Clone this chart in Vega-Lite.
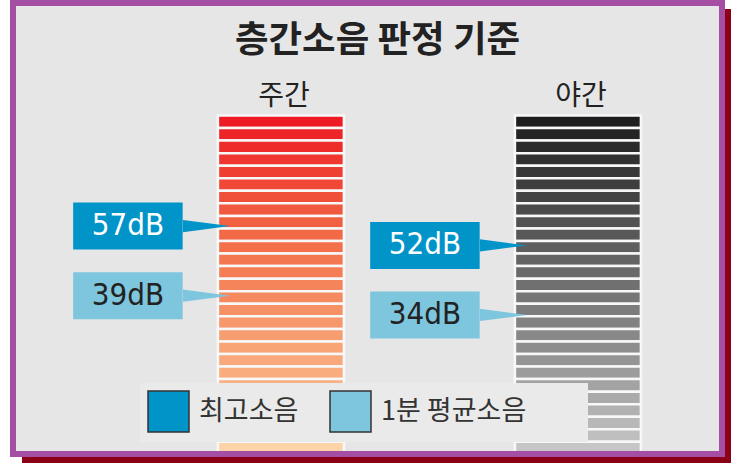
{
  "$schema": "https://vega.github.io/schema/vega-lite/v6.json",
  "width": 743,
  "height": 463,
  "autosize": {"type": "fit", "contains": "padding"},
  "padding": 0,
  "background": "white",
  "config": {"view": {"stroke": null}, "font": "Noto Sans CJK KR"},
  "title": {"text": "층간소음 판정 기준", "font": "Noto Sans CJK KR", "fontSize": 36.5, "fontWeight": "bold", "color": "#222222", "anchor": "middle", "frame": "group", "offset": -59, "dx": 6},
  "datasets": {
    "frame": [{"name": "frame"}],
    "levels": [
      {"period": "주간", "type": "최고소음", "dB": 57, "label": "57dB"},
      {"period": "주간", "type": "1분 평균소음", "dB": 39, "label": "39dB"},
      {"period": "야간", "type": "최고소음", "dB": 52, "label": "52dB"},
      {"period": "야간", "type": "1분 평균소음", "dB": 34, "label": "34dB"}
    ],
    "stripes": [
      {"period": "주간", "level": 0}, {"period": "주간", "level": 1}, {"period": "주간", "level": 2}, {"period": "주간", "level": 3}, {"period": "주간", "level": 4}, {"period": "주간", "level": 5}, {"period": "주간", "level": 6}, {"period": "주간", "level": 7}, {"period": "주간", "level": 8}, {"period": "주간", "level": 9}, {"period": "주간", "level": 10}, {"period": "주간", "level": 11}, {"period": "주간", "level": 12}, {"period": "주간", "level": 13}, {"period": "주간", "level": 14}, {"period": "주간", "level": 15}, {"period": "주간", "level": 16}, {"period": "주간", "level": 17}, {"period": "주간", "level": 18}, {"period": "주간", "level": 19}, {"period": "주간", "level": 20}, {"period": "주간", "level": 21}, {"period": "주간", "level": 22}, {"period": "주간", "level": 23}, {"period": "주간", "level": 24}, {"period": "주간", "level": 25}, {"period": "주간", "level": 26},
      {"period": "야간", "level": 0}, {"period": "야간", "level": 1}, {"period": "야간", "level": 2}, {"period": "야간", "level": 3}, {"period": "야간", "level": 4}, {"period": "야간", "level": 5}, {"period": "야간", "level": 6}, {"period": "야간", "level": 7}, {"period": "야간", "level": 8}, {"period": "야간", "level": 9}, {"period": "야간", "level": 10}, {"period": "야간", "level": 11}, {"period": "야간", "level": 12}, {"period": "야간", "level": 13}, {"period": "야간", "level": 14}, {"period": "야간", "level": 15}, {"period": "야간", "level": 16}, {"period": "야간", "level": 17}, {"period": "야간", "level": 18}, {"period": "야간", "level": 19}, {"period": "야간", "level": 20}, {"period": "야간", "level": 21}, {"period": "야간", "level": 22}, {"period": "야간", "level": 23}, {"period": "야간", "level": 24}, {"period": "야간", "level": 25}, {"period": "야간", "level": 26}
    ]
  },
  "layer": [
    {
      "data": {"name": "frame"},
      "mark": {"type": "rect", "fill": "#8b0016", "xOffset": 22, "x2Offset": -12, "yOffset": 9, "y2Offset": 0},
      "encoding": {"x": {"value": 0}, "x2": {"value": "width"}, "y": {"value": 0}, "y2": {"value": "height"}}
    },
    {
      "data": {"name": "frame"},
      "mark": {"type": "rect", "fill": "#e6e6e6", "xOffset": 13, "x2Offset": -21, "yOffset": 3, "y2Offset": -9},
      "encoding": {"x": {"value": 0}, "x2": {"value": "width"}, "y": {"value": 0}, "y2": {"value": "height"}}
    },
    {
      "data": {"name": "stripes"},
      "transform": [{"filter": "datum.period == '주간'"}],
      "mark": {"type": "rect", "stroke": "#f8f8f8", "strokeWidth": 2.5},
      "encoding": {
        "x": {"field": "period", "type": "nominal", "scale": {"type": "band", "domain": ["주간", "야간"], "paddingInner": 0.5758, "paddingOuter": 0.5387, "align": 0.681, "round": false}, "axis": {"orient": "top", "title": null, "ticks": false, "domain": false, "grid": false, "labelFont": "Noto Sans CJK KR", "labelFontSize": 28, "labelColor": "#222222", "labelPadding": 0, "offset": -110, "labelOffset": 3, "labelAngle": 0}},
        "y": {"field": "level", "type": "ordinal", "scale": {"type": "band", "paddingInner": 0, "paddingOuter": 0, "range": [115.5, 454.4], "round": false}, "axis": null},
        "color": {"field": "level", "type": "quantitative", "scale": {"domain": [0, 9, 18, 21, 26], "range": ["#ed1c24", "#f26a45", "#f8a477", "#fab183", "#fdd3a8"], "interpolate": "rgb"}, "legend": null}
      }
    },
    {
      "data": {"name": "stripes"},
      "transform": [{"filter": "datum.period == '야간'"}],
      "mark": {"type": "rect", "stroke": "#f8f8f8", "strokeWidth": 2.5},
      "encoding": {
        "x": {"field": "period", "type": "nominal", "scale": {"type": "band", "domain": ["주간", "야간"], "paddingInner": 0.5758, "paddingOuter": 0.5387, "align": 0.681, "round": false}, "axis": {"orient": "top", "title": null, "ticks": false, "domain": false, "grid": false, "labelFont": "Noto Sans CJK KR", "labelFontSize": 28, "labelColor": "#222222", "labelPadding": 0, "offset": -110, "labelOffset": 3, "labelAngle": 0}},
        "y": {"field": "level", "type": "ordinal", "scale": {"type": "band", "paddingInner": 0, "paddingOuter": 0, "range": [115.5, 454.4], "round": false}, "axis": null},
        "color": {"field": "level", "type": "quantitative", "scale": {"domain": [0, 9, 18, 26], "range": ["#1e1e1e", "#585858", "#8e8e8e", "#c6c6c6"], "interpolate": "rgb"}, "legend": null}
      }
    },
    {
      "data": {"name": "levels"},
      "mark": {"type": "point", "shape": "M -1 -0.26 L 1 0 L -1 0.26 Z", "size": 2209, "filled": true, "opacity": 1, "strokeWidth": 0, "xOffset": -74.5},
      "encoding": {
        "x": {"field": "period", "type": "nominal", "scale": {"type": "band", "domain": ["주간", "야간"], "paddingInner": 0.5758, "paddingOuter": 0.5387, "align": 0.681, "round": false}, "axis": {"orient": "top", "title": null, "ticks": false, "domain": false, "grid": false, "labelFont": "Noto Sans CJK KR", "labelFontSize": 28, "labelColor": "#222222", "labelPadding": 0, "offset": -110, "labelOffset": 3, "labelAngle": 0}},
        "y": {"field": "dB", "type": "quantitative", "scale": {"domain": [-4.3, 115.5], "nice": false, "zero": false}, "axis": null},
        "color": {"field": "type", "type": "nominal", "scale": {"domain": ["최고소음", "1분 평균소음"], "range": ["#0094c9", "#7ec6de"]}, "legend": null}
      }
    },
    {
      "data": {"name": "levels"},
      "mark": {"type": "rect", "width": 109.5, "xOffset": -153, "yOffset": -23.5, "y2Offset": 23.5},
      "encoding": {
        "x": {"field": "period", "type": "nominal", "scale": {"type": "band", "domain": ["주간", "야간"], "paddingInner": 0.5758, "paddingOuter": 0.5387, "align": 0.681, "round": false}, "axis": {"orient": "top", "title": null, "ticks": false, "domain": false, "grid": false, "labelFont": "Noto Sans CJK KR", "labelFontSize": 28, "labelColor": "#222222", "labelPadding": 0, "offset": -110, "labelOffset": 3, "labelAngle": 0}},
        "y": {"field": "dB", "type": "quantitative", "scale": {"domain": [-4.3, 115.5], "nice": false, "zero": false}, "axis": null},
        "y2": {"field": "dB"},
        "color": {
          "field": "type", "type": "nominal",
          "scale": {"domain": ["최고소음", "1분 평균소음"], "range": ["#0094c9", "#7ec6de"]},
          "legend": {
            "orient": "none", "legendX": 140, "legendY": 383, "direction": "horizontal", "title": null,
            "fillColor": "#eaeaea", "padding": 7, "symbolType": "square", "symbolSize": 1681,
            "labelFont": "Noto Sans CJK KR", "labelFontSize": 27, "labelColor": "#333333", "labelOffset": 9,
            "columnPadding": 28, "labelLimit": 500,
            "labelExpr": "datum.label == '1분 평균소음' ? datum.label + '\u00a0\u00a0\u00a0\u00a0\u00a0\u00a0\u00a0\u00a0\u00a0\u200b' : datum.label",
            "encode": {"symbols": {"update": {"fill": {"signal": "datum.value == '최고소음' ? '#0096c8' : '#c6e3ea'"}, "stroke": {"value": "#333333"}, "strokeWidth": {"value": 1.5}, "opacity": {"value": 1}}}}
          }
        }
      }
    },
    {
      "data": {"name": "levels"},
      "mark": {"type": "text", "dx": -153, "baseline": "middle", "align": "center", "font": "Liberation Sans Narrow, DejaVu Sans Condensed, Roboto Condensed, Roboto", "fontSize": 31},
      "encoding": {
        "x": {"field": "period", "type": "nominal", "scale": {"type": "band", "domain": ["주간", "야간"], "paddingInner": 0.5758, "paddingOuter": 0.5387, "align": 0.681, "round": false}, "axis": {"orient": "top", "title": null, "ticks": false, "domain": false, "grid": false, "labelFont": "Noto Sans CJK KR", "labelFontSize": 28, "labelColor": "#222222", "labelPadding": 0, "offset": -110, "labelOffset": 3, "labelAngle": 0}},
        "y": {"field": "dB", "type": "quantitative", "scale": {"domain": [-4.3, 115.5], "nice": false, "zero": false}, "axis": null},
        "text": {"field": "label"},
        "color": {"condition": {"test": "datum.type == '최고소음'", "value": "#ffffff"}, "value": "#222222"}
      }
    },
    {
      "data": {"name": "frame"},
      "mark": {"type": "rect", "fill": "transparent", "stroke": "#a44ea4", "strokeWidth": 6, "xOffset": 13, "x2Offset": -21, "yOffset": 3, "y2Offset": -9},
      "encoding": {"x": {"value": 0}, "x2": {"value": "width"}, "y": {"value": 0}, "y2": {"value": "height"}}
    }
  ],
  "resolve": {"scale": {"color": "independent", "y": "independent"}}
}
